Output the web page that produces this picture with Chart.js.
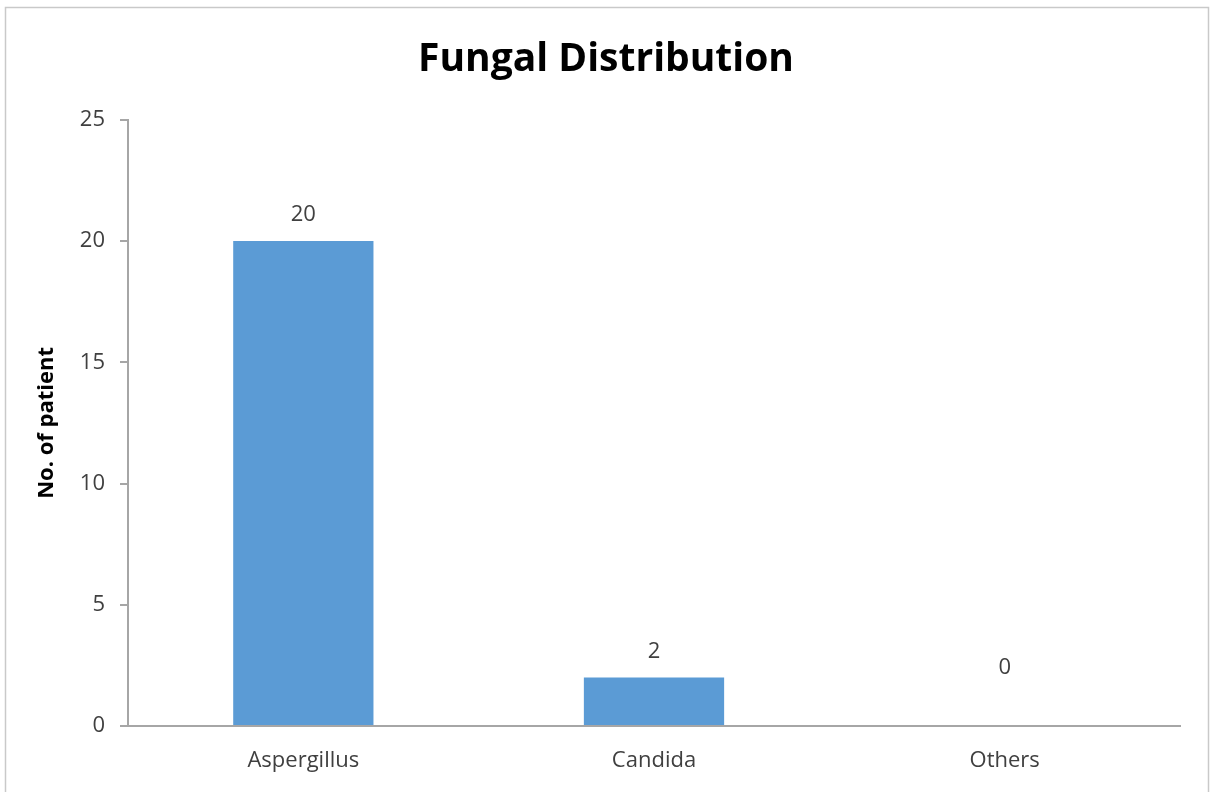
<!DOCTYPE html>
<html>
<head>
<meta charset="utf-8">
<script src="https://cdn.jsdelivr.net/npm/chart.js@4.4.1/dist/chart.umd.min.js"></script>
<style>
  html, body { margin: 0; padding: 0; background: #ffffff; }
  #wrap { width: 1218px; height: 792px; position: relative; }
</style>
</head>
<body>
<div id="wrap"><canvas id="c" width="1218" height="792"></canvas></div>
<script>
const categories = ['Aspergillus', 'Candida', 'Others'];
const patients = [20, 2, 0];
const yTicks = [0, 5, 10, 15, 20, 25];

const FONT = "'Open Sans', 'Noto Sans', sans-serif";
const TEXT = '#404040';
const AXIS = '#a6a6a6';

// outer frame of the chart
const framePlugin = {
  id: 'frame',
  beforeDraw(chart) {
    const ctx = chart.ctx;
    ctx.save();
    ctx.fillStyle = '#ffffff';
    ctx.fillRect(0, 0, chart.width, chart.height);
    ctx.strokeStyle = '#c9c9c9';
    ctx.lineWidth = 1.5;
    ctx.strokeRect(5.5, 7.5, 1203, 820);
    ctx.restore();
  }
};

// value labels above each bar
const valueLabels = {
  id: 'valueLabels',
  afterDatasetsDraw(chart) {
    const ctx = chart.ctx;
    const meta = chart.getDatasetMeta(0);
    const base = chart.scales.y.getPixelForValue(0);
    ctx.save();
    ctx.font = '22px ' + FONT;
    ctx.fillStyle = TEXT;
    ctx.textAlign = 'center';
    ctx.textBaseline = 'middle';
    meta.data.forEach((bar, i) => {
      const y = Math.min(bar.y - 26, base - 58);
      ctx.fillText(String(chart.data.datasets[0].data[i]), bar.x, y);
    });
    ctx.restore();
  }
};

new Chart(document.getElementById('c'), {
  type: 'bar',
  data: {
    labels: categories,
    datasets: [{
      data: patients,
      backgroundColor: '#5b9bd5',
      borderWidth: 0,
      barPercentage: 0.4,
      categoryPercentage: 1.0
    }]
  },
  options: {
    responsive: false,
    animation: false,
    layout: { padding: { left: 32, right: 38, top: 0, bottom: 0 } },
    plugins: {
      legend: { display: false },
      tooltip: { enabled: false },
      title: {
        display: true,
        text: 'Fungal Distribution',
        color: '#000000',
        font: { family: FONT, size: 39, weight: 'bold' },
        padding: { top: 36, bottom: 37 }
      }
    },
    scales: {
      x: {
        grid: { display: false, drawTicks: false },
        border: { display: true, color: AXIS, width: 2 },
        ticks: { color: TEXT, font: { family: FONT, size: 22 }, padding: 22 },
        afterFit(scale) { scale.height = 66; }
      },
      y: {
        min: 0,
        max: 25,
        afterBuildTicks(scale) { scale.ticks = yTicks.map(v => ({ value: v })); },
        grid: { drawOnChartArea: false, drawTicks: true, tickLength: 8, color: AXIS, lineWidth: 2 },
        border: { display: true, color: AXIS, width: 2 },
        ticks: { color: TEXT, font: { family: FONT, size: 22 }, padding: 15 },
        title: {
          display: true,
          text: 'No. of patient',
          color: '#000000',
          font: { family: FONT, size: 22, weight: 'bold' },
          padding: { top: 2, bottom: 0 }
        },
        afterFit(scale) { scale.width = 96; }
      }
    }
  },
  plugins: [framePlugin, valueLabels]
});
</script>
</body>
</html>
